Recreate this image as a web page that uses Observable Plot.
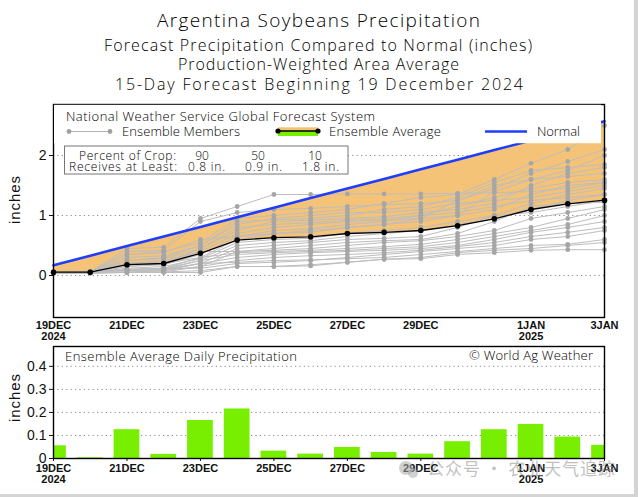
<!DOCTYPE html>
<html>
<head>
<meta charset="utf-8">
<script src="https://cdn.jsdelivr.net/npm/d3@7"></script>
<script src="https://cdn.jsdelivr.net/npm/@observablehq/plot@0.6"></script>
<style>
  html, body { margin: 0; padding: 0; background: #fff; }
  #wrap { position: relative; width: 638px; height: 497px; overflow: hidden; background: #fff; }
  #top { position: absolute; left: 0; top: 96px; }
  #bottom { position: absolute; left: 0; top: 343px; }
  #overlay { position: absolute; left: 0; top: 0; pointer-events: none; }
  svg text { font-family: "Liberation Sans", Arial, sans-serif; }
  #overlay text.thin { font-family: "Open Sans", "Liberation Sans", sans-serif; font-weight: 300; }
</style>
</head>
<body>
<div id="wrap">
  <div id="top"></div>
  <div id="bottom"></div>
  <svg id="overlay" width="638" height="497"></svg>
</div>
<script>
// ---------------- DATA ----------------
const dateStr = ["2024-12-19","2024-12-20","2024-12-21","2024-12-22","2024-12-23","2024-12-24","2024-12-25","2024-12-26",
                 "2024-12-27","2024-12-28","2024-12-29","2024-12-30","2024-12-31","2025-01-01","2025-01-02","2025-01-03"];
// cumulative ensemble average (inches)
const ensembleAvg = [0.055,0.055,0.18,0.20,0.37,0.59,0.63,0.645,0.70,0.72,0.75,0.83,0.945,1.10,1.195,1.255];
// cumulative normal (inches)
const normalCum = [0.17,0.33,0.49,0.65,0.81,0.97,1.13,1.29,1.45,1.61,1.77,1.93,2.09,2.25,2.41,2.57];
// ensemble average daily precipitation (inches)
const dailyAvg = [0.055,0.003,0.125,0.018,0.165,0.215,0.032,0.019,0.048,0.026,0.019,0.073,0.125,0.148,0.093,0.057];
// ensemble members, cumulative (inches)
const members = [
  [0.05,0.06,0.45,0.47,0.95,1.15,1.35,1.35,1.36,1.36,1.36,1.37,1.38,1.40,1.45,1.55],
  [0.05,0.05,0.40,0.42,0.90,1.05,1.10,1.12,1.15,1.18,1.20,1.25,1.45,1.70,1.90,2.10],
  [0.06,0.07,0.35,0.40,0.55,0.95,1.00,1.05,1.10,1.20,1.30,1.35,1.60,1.87,2.10,2.50],
  [0.05,0.05,0.30,0.33,0.50,0.90,0.93,0.95,1.00,1.10,1.15,1.30,1.55,1.75,1.80,1.85],
  [0.04,0.05,0.25,0.28,0.45,0.75,0.90,0.92,0.95,0.98,1.05,1.10,1.20,1.50,1.70,1.80],
  [0.05,0.06,0.20,0.22,0.40,0.70,0.80,0.85,0.90,0.92,0.95,1.00,1.40,1.60,1.65,1.70],
  [0.05,0.05,0.15,0.18,0.35,0.65,0.75,0.78,0.85,0.90,1.00,1.15,1.30,1.45,1.55,1.60],
  [0.06,0.06,0.10,0.12,0.30,0.60,0.70,0.72,0.80,0.85,0.90,1.00,1.10,1.35,1.50,1.55],
  [0.05,0.05,0.12,0.15,0.28,0.55,0.60,0.62,0.70,0.75,0.80,0.90,1.00,1.20,1.35,1.45],
  [0.05,0.06,0.08,0.10,0.25,0.50,0.55,0.58,0.65,0.70,0.75,0.85,0.95,1.10,1.25,1.35],
  [0.04,0.04,0.06,0.08,0.20,0.45,0.50,0.55,0.60,0.62,0.65,0.80,1.00,1.05,1.15,1.25],
  [0.05,0.05,0.05,0.06,0.15,0.40,0.45,0.50,0.55,0.58,0.60,0.70,0.90,1.15,1.20,1.22],
  [0.05,0.06,0.20,0.25,0.40,0.40,0.42,0.45,0.50,0.55,0.58,0.65,0.75,0.95,1.05,1.15],
  [0.05,0.05,0.15,0.20,0.30,0.38,0.40,0.42,0.45,0.48,0.52,0.60,0.70,0.80,0.95,1.10],
  [0.04,0.05,0.10,0.12,0.25,0.35,0.38,0.40,0.42,0.45,0.48,0.55,0.65,0.75,0.85,1.00],
  [0.05,0.06,0.08,0.10,0.20,0.30,0.35,0.38,0.40,0.42,0.45,0.50,0.60,0.72,0.80,0.90],
  [0.05,0.05,0.05,0.08,0.15,0.25,0.30,0.33,0.35,0.38,0.42,0.48,0.55,0.65,0.72,0.80],
  [0.06,0.07,0.10,0.12,0.12,0.20,0.22,0.25,0.30,0.35,0.40,0.45,0.50,0.60,0.65,0.75],
  [0.04,0.04,0.05,0.06,0.08,0.15,0.15,0.18,0.22,0.27,0.30,0.38,0.42,0.45,0.50,0.55],
  [0.05,0.05,0.08,0.10,0.20,0.22,0.25,0.26,0.28,0.30,0.35,0.40,0.45,0.50,0.52,0.60],
  [0.03,0.04,0.05,0.05,0.05,0.15,0.15,0.16,0.22,0.27,0.28,0.35,0.38,0.42,0.43,0.43],
  [0.06,0.06,0.25,0.30,0.50,0.85,0.95,1.00,1.05,1.05,1.10,1.20,1.25,1.30,1.40,1.50],
  [0.05,0.06,0.35,0.38,0.60,0.65,0.70,0.75,0.80,0.85,0.95,1.25,1.50,1.60,1.75,2.00],
  [0.05,0.05,0.18,0.20,0.45,0.80,0.85,0.88,0.92,0.95,1.00,1.05,1.15,1.25,1.30,1.35]
];
const tickDateStr = ["2024-12-19","2024-12-21","2024-12-23","2024-12-25","2024-12-27","2024-12-29","2025-01-01","2025-01-03"];
const tickLabels = ["19DEC\n2024","21DEC","23DEC","25DEC","27DEC","29DEC","1JAN\n2025","3JAN"];
const topYTicks = [0, 1, 2];
const bottomYTicks = [0, 0.1, 0.2, 0.3, 0.4];
const cropPercent = ["90", "50", "10"];
const cropAmount = ["0.8 in.", "0.9 in.", "1.8 in."];

// ---------------- TABLES ----------------
const dates = dateStr.map(s => new Date(s + "T00:00:00Z"));
const tickDates = tickDateStr.map(s => new Date(s + "T00:00:00Z"));
const labelMap = new Map(tickDates.map((d, i) => [+d, tickLabels[i]]));
const fmtTick = d => labelMap.get(+d) ?? "";
const tbl = dates.map((d, i) => ({date: d, avg: ensembleAvg[i], normal: normalCum[i]}));
const memb = members.flatMap((arr, m) => arr.map((v, i) => ({date: dates[i], v, m})));
const DAY = 864e5;
const bars = dates.map((d, i) => ({x1: new Date(+d - 0.35 * DAY), x2: new Date(+d + 0.35 * DAY), v: dailyAvg[i]}));
const xDomain = [dates[0], dates[dates.length - 1]];

const tickFont = {fontFamily: "'Liberation Sans Narrow', 'DejaVu Sans Condensed', 'Arial Narrow', sans-serif", fontWeight: "bold", fontSize: 11};

// ---------------- TOP CHART ----------------
const topChart = Plot.plot({
  width: 638, height: 247,
  marginLeft: 53, marginRight: 34, marginTop: 8, marginBottom: 26,
  style: {fontFamily: "'Liberation Sans', Arial, sans-serif", fontSize: "14px", background: "transparent", overflow: "visible", color: "#111"},
  x: {type: "utc", domain: xDomain},
  y: {domain: [-0.7, 2.85]},
  marks: [
    Plot.ruleY(topYTicks, {stroke: "#8a8a8a", strokeDasharray: "1.2,3.2", strokeWidth: 1}),
    Plot.areaY(tbl, {x: "date", y1: "avg", y2: "normal", fill: "#f5c378"}),
    Plot.line(memb, {x: "date", y: "v", z: "m", stroke: "#bdbdbd", strokeWidth: 1}),
    Plot.dot(memb, {x: "date", y: "v", r: 2.4, fill: "#a6a6a6", stroke: null}),
    Plot.line(tbl, {x: "date", y: "avg", stroke: "#000", strokeWidth: 1.3}),
    Plot.dot(tbl, {x: "date", y: "avg", r: 2.8, fill: "#000", stroke: null}),
    Plot.line(tbl, {x: "date", y: "normal", stroke: "#1f3dff", strokeWidth: 2.6}),
    Plot.frame({stroke: "#000", strokeWidth: 1.4}),
    Plot.axisY({ticks: topYTicks, tickSize: 4, tickPadding: 3, tickFormat: d => String(d), label: null, fontSize: 14}),
    Plot.axisX({ticks: tickDates, tickSize: 0, tickPadding: 4, tickFormat: fmtTick, label: null, ...tickFont})
  ]
});
document.getElementById("top").appendChild(topChart);

// ---------------- BOTTOM CHART ----------------
const bottomChart = Plot.plot({
  width: 638, height: 151,
  marginLeft: 53, marginRight: 34, marginTop: 3, marginBottom: 36,
  style: {fontFamily: "'Liberation Sans', Arial, sans-serif", fontSize: "14px", background: "transparent", overflow: "visible", color: "#111"},
  x: {type: "utc", domain: xDomain},
  y: {domain: [0, 0.486]},
  marks: [
    Plot.ruleY(bottomYTicks.slice(1), {stroke: "#8a8a8a", strokeDasharray: "1.2,3.2", strokeWidth: 1}),
    Plot.rectY(bars, {x1: "x1", x2: "x2", y: "v", fill: "#78ee00", clip: true}),
    Plot.frame({stroke: "#000", strokeWidth: 1.4}),
    Plot.axisY({ticks: bottomYTicks, tickSize: 4, tickPadding: 3, tickFormat: d => String(d), label: null, fontSize: 14}),
    Plot.axisX({ticks: tickDates, tickSize: 3, tickPadding: 3, tickFormat: fmtTick, label: null, ...tickFont})
  ]
});
document.getElementById("bottom").appendChild(bottomChart);

// ---------------- OVERLAY (titles, legend) ----------------
const ov = d3.select("#overlay");
function txt(s, x, y, opts = {}) {
  const t = ov.append("text").attr("x", x).attr("y", y).text(s)
    .attr("font-size", opts.size || 13).attr("fill", opts.fill || "#111")
    .attr("text-anchor", opts.anchor || "start");
  if (opts.thin) t.attr("class", "thin");
  if (opts.len) t.attr("textLength", opts.len).attr("lengthAdjust", "spacing");
  if (opts.family) t.style("font-family", opts.family);
  if (opts.rotate) t.attr("transform", `rotate(-90 ${x} ${y})`);
  return t;
}
// titles
txt("Argentina Soybeans Precipitation", 157, 27, {size: 19, len: 323, thin: true, fill: "#000"});
txt("Forecast Precipitation Compared to Normal (inches)", 104, 50.5, {size: 16, len: 428, thin: true, fill: "#000"});
txt("Production-Weighted Area Average", 178, 69.5, {size: 16, len: 281, thin: true, fill: "#000"});
txt("15-Day Forecast Beginning 19 December 2024", 115, 89.5, {size: 16, len: 408, thin: true, fill: "#000"});

// legend box (white) covering top of plot
ov.append("rect").attr("x", 54).attr("y", 104.8).attr("width", 547).attr("height", 38.4).attr("fill", "#fff");
txt("National Weather Service Global Forecast System", 66, 121, {size: 13, len: 309, thin: true, fill: "#000"});
// ensemble members key
ov.append("line").attr("x1", 69).attr("x2", 110).attr("y1", 131.5).attr("y2", 131.5).attr("stroke", "#b0b0b0").attr("stroke-width", 1.2);
ov.append("circle").attr("cx", 69).attr("cy", 131.5).attr("r", 2.4).attr("fill", "#a0a0a0");
ov.append("circle").attr("cx", 110).attr("cy", 131.5).attr("r", 2.4).attr("fill", "#a0a0a0");
txt("Ensemble Members", 122, 136, {size: 13, len: 118, thin: true, fill: "#000"});
// ensemble average key
ov.append("rect").attr("x", 278).attr("y", 127.3).attr("width", 40).attr("height", 3.7).attr("fill", "#f5c378");
ov.append("rect").attr("x", 278).attr("y", 131).attr("width", 40).attr("height", 5).attr("fill", "#78ee00");
ov.append("line").attr("x1", 278).attr("x2", 318).attr("y1", 131).attr("y2", 131).attr("stroke", "#000").attr("stroke-width", 1.6);
ov.append("circle").attr("cx", 278).attr("cy", 131).attr("r", 2.6).attr("fill", "#000");
ov.append("circle").attr("cx", 318).attr("cy", 131).attr("r", 2.6).attr("fill", "#000");
txt("Ensemble Average", 329, 136, {size: 13, len: 112, thin: true, fill: "#000"});
// normal key
ov.append("line").attr("x1", 485).attr("x2", 527).attr("y1", 131.5).attr("y2", 131.5).attr("stroke", "#1f3dff").attr("stroke-width", 2.6);
txt("Normal", 537, 136, {size: 13, len: 43, thin: true, fill: "#000"});

// percent of crop box
ov.append("rect").attr("x", 64.5).attr("y", 146).attr("width", 283.5).attr("height", 28).attr("fill", "#fff").attr("stroke", "#777").attr("stroke-width", 1);
txt("Percent of Crop:", 79, 159.5, {size: 12, len: 97, thin: true, fill: "#000"});
const pcX = [202, 258, 315];
cropPercent.forEach((s, i) => txt(s, pcX[i], 159.5, {size: 12, anchor: "middle", thin: true, fill: "#000"}));
txt("Receives at Least:", 69, 170.5, {size: 12, len: 108, thin: true, fill: "#000"});
const amX = [188, 245, 302];
cropAmount.forEach((s, i) => txt(s, amX[i], 170.5, {size: 12, len: 37, thin: true, fill: "#000"}));

// y-axis titles
txt("inches", 20, 200, {size: 15, anchor: "middle", rotate: true, len: 48});
txt("inches", 20, 398, {size: 15, anchor: "middle", rotate: true, len: 48});

// bottom chart labels
txt("Ensemble Average Daily Precipitation", 65, 360.5, {size: 13, len: 232, thin: true, fill: "#000"});
txt("\u00A9 World Ag Weather", 469, 360, {size: 13, len: 124, thin: true, fill: "#000"});

// watermark
ov.append("circle").attr("cx", 406).attr("cy", 468).attr("r", 7).attr("fill", "rgba(170,170,170,0.55)");
ov.append("circle").attr("cx", 413).attr("cy", 473).attr("r", 5).attr("fill", "rgba(170,170,170,0.55)");
txt("公众号 · 农业天气追踪", 427, 475, {size: 17, fill: "rgba(150,150,150,0.6)", len: 188, family: "'Noto Sans CJK SC', sans-serif"});

// image border (right and bottom)
ov.append("rect").attr("x", 634).attr("y", 0).attr("width", 4).attr("height", 497).attr("fill", "#d4d4d4");
ov.append("rect").attr("x", 0).attr("y", 494).attr("width", 638).attr("height", 3).attr("fill", "#d4d4d4");
</script>
</body>
</html>
